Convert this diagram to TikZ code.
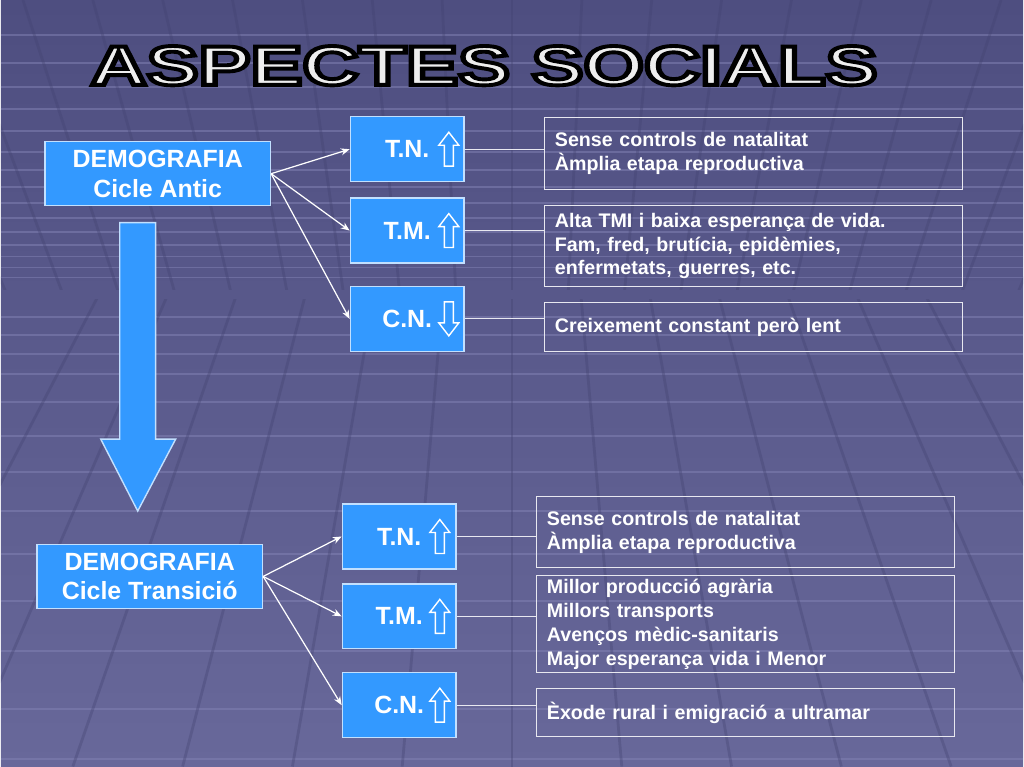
\documentclass[tikz,border=0pt]{standalone}
\usepackage{fontspec}
\setmainfont{Liberation Sans}
\usetikzlibrary{arrows.meta}

\definecolor{bgtop}{RGB}{78,78,128}
\definecolor{bgbot}{RGB}{104,104,154}
\definecolor{gridlight}{RGB}{128,128,178}
\definecolor{griddark}{RGB}{66,66,112}
\definecolor{boxblue}{RGB}{51,153,255}
\definecolor{titlegray}{RGB}{238,238,238}

% outlined text: fill, then stroke in black
\newcommand{\outlinedtext}[1]{\special{pdf:literal direct 2 Tr 2.2 w 0 0 0 RG}#1\special{pdf:literal direct 0 Tr}}

\tikzset{
  demobox/.style={draw=white!70!boxblue, line width=0.8pt, fill=boxblue, text=white, align=center,
    font=\bfseries\fontsize{14.2}{17}\selectfont, minimum width=4.52cm, minimum height=1.28cm, inner sep=0pt},
  ratebox/.style={demobox, minimum width=2.28cm, minimum height=1.3cm},
  infobox/.style={draw=white!85!bgbot, line width=0.5pt, text=white, align=left, text width=7.94cm,
    inner xsep=0.22cm, inner ysep=0pt, font=\bfseries\fontsize{11.2}{13.6}\selectfont},
  link/.style={white, line width=0.7pt, -{Stealth[length=5pt,width=4pt]}},
  tie/.style={white!85!bgbot, line width=0.5pt},
  bigarrow/.style={fill=boxblue, draw=white!70!boxblue, line width=0.8pt},
  titletext/.style={font=\bfseries\fontsize{31.7}{36}\selectfont, xscale=1.4, anchor=base, inner sep=0pt},
  uparr/.pic={\draw[white, line width=0.8pt] (-4.5,17) -- (-4.5,-4) -- (-10,-4) -- (0,-17)
    -- (10,-4) -- (4.5,-4) -- (4.5,17) -- cycle;}
}

\begin{document}
\begin{tikzpicture}[x=0.02cm, y=-0.02cm]
  % background grid
  \fill[top color=bgtop, bottom color=bgbot] (0,0) rectangle (1024,768);
  \foreach \y in {35,63,87,109,131,152,170,187,203,218,232,245,257,268,278,
                  318,336,355,375,403,437,473,512,555,602,652,710,760}
    \draw[gridlight, line width=1.1pt, opacity=.55] (0,\y) -- (1024,\y);
  \begin{scope}
    \clip (0,0) rectangle (1024,290);
    \foreach \k in {-9,...,9}
      \draw[griddark, line width=1.6pt, opacity=.35] (512,1500) -- (512+70*\k,0);
  \end{scope}
  \begin{scope}
    \clip (0,300) rectangle (1024,768);
    \foreach \k in {-6,...,6}
      \draw[griddark, line width=1.6pt, opacity=.35] (512,-500) -- (512+110*\k,768);
  \end{scope}

  % title
  \node[titletext, text=titlegray] (title) at (484,85) {\outlinedtext{ASPECTES SOCIALS}};

  % cicle antic
  \node[demobox] (demo1) at (157,174) {DEMOGRAFIA\\Cicle Antic};
  \node[ratebox] (tn1) at (407,149.5) {T.N.};
  \node[ratebox] (tm1) at (407,231) {T.M.};
  \node[ratebox] (cn1) at (407,319.5) {C.N.};
  \pic at ([xshift=-0.32cm]tn1.east) {uparr};
  \pic at ([xshift=-0.32cm]tm1.east) {uparr};
  \pic[rotate=180] at ([xshift=-0.32cm]cn1.east) {uparr};

  \node[infobox, minimum height=1.44cm] (nat1) at (753.5,154) {Sense controls de natalitat\\Àmplia etapa reproductiva};
  \node[infobox, minimum height=1.62cm] (mor1) at (753.5,246.5) {Alta TMI i baixa esperança de vida.\\Fam, fred, brutícia, epidèmies,\\enfermetats, guerres, etc.};
  \node[infobox, minimum height=0.98cm] (cre1) at (753.5,327.5) {Creixement constant però lent};

  \draw[link] (demo1.east) -- (tn1.west);
  \draw[link] (demo1.east) -- (tm1.west);
  \draw[link] (demo1.east) -- (cn1.west);
  \draw[tie] (tn1.east) -- (tn1.east -| nat1.west);
  \draw[tie] (tm1.east) -- (tm1.east -| mor1.west);
  \draw[tie] (cn1.east) -- (cn1.east -| cre1.west);

  \draw[bigarrow] (119,223) -- (155,223) -- (155,440) -- (175,440) -- (137,512) -- (100,440) -- (119,440) -- cycle;

  % cicle de transicio
  \node[demobox] (demo2) at (149,577.5) {DEMOGRAFIA\\Cicle Transició};
  \node[ratebox] (tn2) at (399,537.5) {T.N.};
  \node[ratebox] (tm2) at (399,617.5) {T.M.};
  \node[ratebox] (cn2) at (399,706.5) {C.N.};
  \pic at ([xshift=-0.34cm]tn2.east) {uparr};
  \pic at ([xshift=-0.34cm]tm2.east) {uparr};
  \pic at ([xshift=-0.34cm]cn2.east) {uparr};

  \node[infobox, minimum height=1.44cm] (nat2) at (745.5,533) {Sense controls de natalitat\\Àmplia etapa reproductiva};
  \node[infobox, minimum height=1.94cm] (mor2) at (745.5,625.5) {Millor producció agrària\\Millors transports\\Avenços mèdic-sanitaris\\Major esperança vida i Menor};
  \node[infobox, minimum height=0.96cm] (cre2) at (745.5,714) {Èxode rural i emigració a ultramar};

  \draw[link] (demo2.east) -- (tn2.west);
  \draw[link] (demo2.east) -- (tm2.west);
  \draw[link] (demo2.east) -- (cn2.west);
  \draw[tie] (tn2.east) -- (tn2.east -| nat2.west);
  \draw[tie] (tm2.east) -- (tm2.east -| mor2.west);
  \draw[tie] (cn2.east) -- (cn2.east -| cre2.west);
\end{tikzpicture}
\end{document}
